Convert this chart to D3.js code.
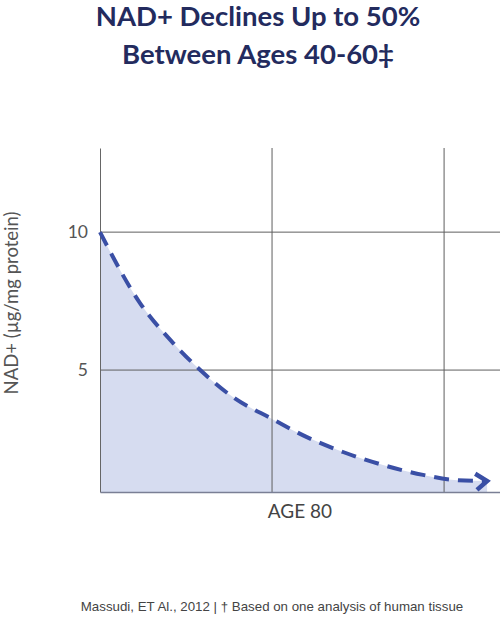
<!DOCTYPE html>
<html>
<head>
<meta charset="utf-8">
<script src="https://cdn.jsdelivr.net/npm/d3@7"></script>
<style>
html,body{margin:0;padding:0;background:#fff;}
svg{display:block;}
</style>
</head>
<body>
<svg id="chart" width="500" height="620"></svg>
<script>
// ---- data ----
const titleLines = ["NAD+ Declines Up to 50%", "Between Ages 40-60\u2021"];
const ages = [0, 9.3, 17, 23.3, 30.9, 40, 48.1, 56.5, 65.8, 75.1, 83, 90];
const nadValues = [10, 7.43, 5.98, 5.0, 4.02, 3.23, 2.57, 2.03, 1.56, 1.2, 1.01, 0.98];
const yTicks = [5, 10];
const xGrid = [40, 80];
const yLabel = "NAD+ (\u00b5g/mg protein)";
const xLabel = "AGE 80";
const footer = "Massudi, ET Al., 2012  |  \u2020 Based on one analysis of human tissue";

const svg = d3.select("#chart");
const plot = {left:100, right:500, top:148, bottom:492};

const x = d3.scaleLinear().domain([0, 93]).range([plot.left, plot.right]);
const y = d3.scaleLinear().domain([0.58, 13.05]).range([plot.bottom, plot.top]);

const data = ages.map((a,i)=>({a, v:nadValues[i]}));

// title
const title = svg.append("g").attr("font-family","Lato, 'Open Sans', sans-serif")
  .attr("font-weight","700").attr("font-size","27.5px").attr("fill","#232b5e")
  .attr("text-anchor","middle");
title.selectAll("text").data(titleLines).join("text")
  .attr("x", 258).attr("y",(d,i)=>26 + i*38).text(d=>d);

// area fill
const area = d3.area().x(d=>x(d.a)).y0(plot.bottom).y1(d=>y(d.v)).curve(d3.curveMonotoneX);
svg.append("path").datum(data).attr("d", area).attr("fill","#d6dcf0");

// gridlines
const gridColor = "#5e5e5e";
svg.append("g").selectAll("line").data(yTicks).join("line")
  .attr("x1", plot.left).attr("x2", plot.right)
  .attr("y1", d=>y(d)).attr("y2", d=>y(d))
  .attr("stroke", gridColor).attr("stroke-width",1);
svg.append("g").selectAll("line").data(xGrid).join("line")
  .attr("x1", d=>x(d)).attr("x2", d=>x(d))
  .attr("y1", plot.top).attr("y2", plot.bottom)
  .attr("stroke", gridColor).attr("stroke-width",1);

// axes
const yAxis = d3.axisLeft(y).tickValues(yTicks).tickSize(0).tickPadding(12);
const yg = svg.append("g").attr("transform",`translate(${plot.left},0)`).call(yAxis);
yg.select(".domain").attr("stroke","#666");
yg.selectAll("text").attr("font-family","Lato, sans-serif").attr("font-size","17.5px").attr("fill","#555");

const xAxis = d3.axisBottom(x).tickValues([]).tickSize(0);
const xg = svg.append("g").attr("transform",`translate(0,${plot.bottom})`).call(xAxis);
xg.select(".domain").attr("stroke","#7a7f95").attr("stroke-width",1.5);

// line
const line = d3.line().x(d=>x(d.a)).y(d=>y(d.v)).curve(d3.curveMonotoneX);
svg.append("defs").append("marker")
  .attr("id","arrow").attr("markerUnits","userSpaceOnUse")
  .attr("viewBox","-16 -12 20 24").attr("refX",0).attr("refY",0)
  .attr("markerWidth",20).attr("markerHeight",24).attr("orient","auto")
  .append("path").attr("d","M-12,-7 L0,0 L-10,9")
  .attr("fill","none").attr("stroke","#3a4fa5").attr("stroke-width",4.5);
svg.append("path").datum(data).attr("d", line)
  .attr("fill","none").attr("stroke","#3a4fa5").attr("stroke-width",4)
  .attr("stroke-dasharray","15 9").attr("marker-end","url(#arrow)");

// labels
svg.append("text").attr("transform",`translate(18,303) rotate(-90)`)
  .attr("text-anchor","middle").attr("font-family","Lato, sans-serif")
  .attr("font-size","18.5px").attr("fill","#555").text(yLabel);
svg.append("text").attr("x",300).attr("y",518).attr("text-anchor","middle")
  .attr("font-family","Lato, sans-serif").attr("font-size","19px").attr("fill","#444").text(xLabel);
svg.append("text").attr("x",272).attr("y",611).attr("text-anchor","middle")
  .attr("font-family","'Liberation Sans', sans-serif")
  .attr("font-size","13.3px").attr("fill","#444").text(footer);
</script>
</body>
</html>
